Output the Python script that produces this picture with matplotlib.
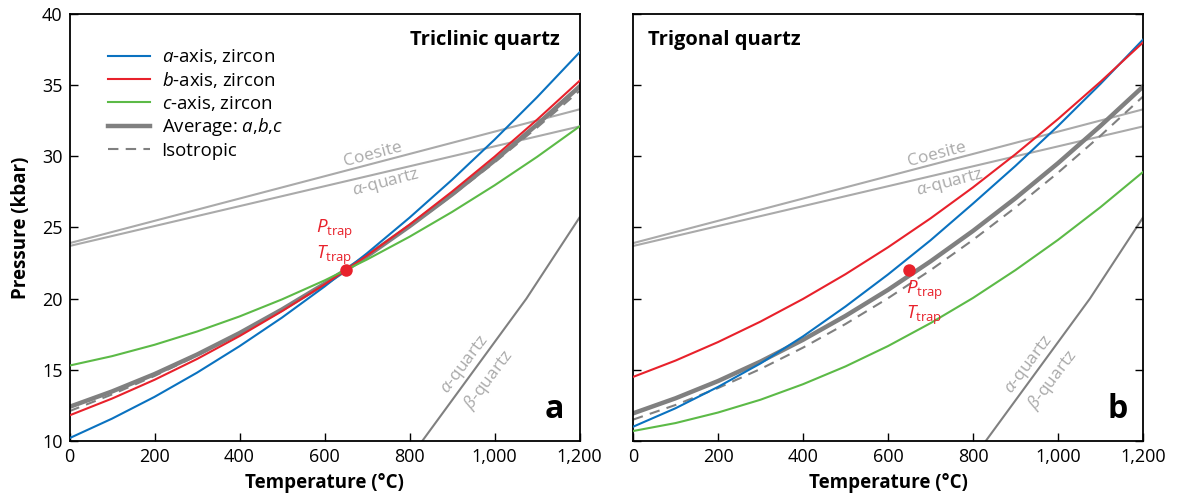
import numpy as np
import matplotlib
matplotlib.use("Agg")
import matplotlib.pyplot as plt

plt.rcParams['font.family'] = ['Open Sans', 'DejaVu Sans']
plt.rcParams['mathtext.fontset'] = 'custom'
plt.rcParams['mathtext.it'] = 'Open Sans:italic'
plt.rcParams['mathtext.rm'] = 'Open Sans'

temps = [0, 100, 200, 300, 400, 500, 600, 700, 800, 900, 1000, 1100, 1200]

# panel a: triclinic quartz
tri_a = [10.2, 11.57, 13.10, 14.80, 16.66, 18.67, 20.85, 23.19, 25.69, 28.35, 31.17, 34.15, 37.3]
tri_b = [11.8, 12.98, 14.30, 15.76, 17.37, 19.12, 21.00, 23.03, 25.20, 27.52, 29.97, 32.57, 35.3]
tri_c = [15.3, 15.96, 16.76, 17.69, 18.75, 19.95, 21.28, 22.75, 24.35, 26.09, 27.96, 29.96, 32.1]
tri_avg = [12.4, 13.48, 14.70, 16.07, 17.58, 19.24, 21.04, 22.99, 25.09, 27.32, 29.70, 32.23, 34.9]
tri_iso = [12.1, 13.27, 14.57, 16.00, 17.55, 19.24, 21.05, 22.99, 25.05, 27.25, 29.57, 32.02, 34.6]

# panel b: trigonal quartz
trig_a = [11.0, 12.3, 13.8, 15.45, 17.35, 19.45, 21.7, 24.1, 26.68, 29.33, 32.13, 35.09, 38.2]
trig_b = [14.5, 15.65, 16.95, 18.39, 19.98, 21.72, 23.61, 25.64, 27.82, 30.15, 32.62, 35.24, 38.0]
trig_c = [10.7, 11.26, 12.00, 12.90, 13.99, 15.24, 16.67, 18.28, 20.05, 22.01, 24.13, 26.43, 28.9]
trig_avg = [11.94, 13.00, 14.21, 15.58, 17.11, 18.79, 20.62, 22.62, 24.76, 27.06, 29.52, 32.14, 34.9]
trig_iso = [11.5, 12.53, 13.72, 15.06, 16.56, 18.22, 20.03, 22.00, 24.13, 26.41, 28.85, 31.45, 34.2]

# phase boundaries / reference lines
coesite_T = [0, 1200]
coesite_P = [23.9, 33.3]
aqtz_T = [0, 1200]
aqtz_P = [23.7, 32.1]
ab_T = [830, 1075, 1200]
ab_P = [10.0, 20.0, 25.7]

trap_T, trap_P = 650, 22

blue = '#0a72c0'
red = '#e8212b'
green = '#5cba47'
gray = '#808080'
lgray = '#aaaaaa'

fig = plt.figure(figsize=(11.77, 4.95), dpi=100)
ax1 = fig.add_axes([69.5/1177, 1-441/495, 510/1177, 427/495])
ax2 = fig.add_axes([633/1177, 1-441/495, 510/1177, 427/495])

panels = [
    (ax1, tri_a, tri_b, tri_c, tri_avg, tri_iso, 'a'),
    (ax2, trig_a, trig_b, trig_c, trig_avg, trig_iso, 'b'),
]

for ax, pa, pb, pc, pavg, piso, letter in panels:
    ax.plot(coesite_T, coesite_P, color=lgray, lw=1.5, zorder=1)
    ax.plot(aqtz_T, aqtz_P, color=lgray, lw=1.5, zorder=1)
    ax.plot(ab_T, ab_P, color=gray, lw=1.5, zorder=1)
    ax.plot(temps, pa, color=blue, lw=1.5, label='$a$-axis, zircon', zorder=3)
    ax.plot(temps, pb, color=red, lw=1.5, label='$b$-axis, zircon', zorder=3)
    ax.plot(temps, pc, color=green, lw=1.5, label='$c$-axis, zircon', zorder=3)
    ax.plot(temps, pavg, color=gray, lw=3.2, label='Average: $a$,$b$,$c$', zorder=2)
    ax.plot(temps, piso, color=gray, lw=1.5, ls=(0, (5, 3.5)), label='Isotropic', zorder=2)
    ax.plot(trap_T, trap_P, 'o', color=red, ms=9, mec='none', zorder=5)

    ax.set_xlim(0, 1200)
    ax.set_ylim(10, 40)
    ax.set_xticks([0, 200, 400, 600, 800, 1000, 1200])
    ax.set_xticklabels(['0', '200', '400', '600', '800', '1,000', '1,200'])
    ax.set_yticks([10, 15, 20, 25, 30, 35, 40])
    ax.tick_params(direction='in', length=6, width=1, labelsize=13, pad=5)
    for s in ax.spines.values():
        s.set_linewidth(1.3)
    ax.set_xlabel('Temperature (°C)', fontsize=13.5, fontweight='bold', labelpad=5)

    ax.text(715, 30.16, 'Coesite', color=lgray, fontsize=12.5, rotation=14.7,
            ha='center', va='center')
    ax.text(745, 28.15, '$\\alpha$-quartz', color=lgray, fontsize=12.5, rotation=14.7,
            ha='center', va='center')
    ax.text(932, 15.35, '$\\alpha$-quartz', color=lgray, fontsize=12.5, rotation=53,
            ha='center', va='center')
    ax.text(987, 14.3, '$\\beta$-quartz', color=lgray, fontsize=12.5, rotation=53,
            ha='center', va='center')
    ax.text(0.97, 0.035, letter, transform=ax.transAxes, fontsize=23,
            fontweight='bold', ha='right', va='bottom')

ax1.set_ylabel('Pressure (kbar)', fontsize=13.5, fontweight='bold', labelpad=8)
ax1.text(0.962, 0.962, 'Triclinic quartz', transform=ax1.transAxes, fontsize=14.5,
         fontweight='bold', ha='right', va='top')
ax2.text(0.03, 0.962, 'Trigonal quartz', transform=ax2.transAxes, fontsize=14.5,
         fontweight='bold', ha='left', va='top')
ax2.tick_params(axis='y', left=True, right=True, labelleft=False)

ax1.text(580, 22.25, '$P_{\\mathrm{trap}}$\n$T_{\\mathrm{trap}}$', color=red, fontsize=13.5,
         ha='left', va='bottom', linespacing=1.15)
ax2.text(642, 21.4, '$P_{\\mathrm{trap}}$\n$T_{\\mathrm{trap}}$', color=red, fontsize=13.5,
         ha='left', va='top', linespacing=1.15)

ax1.legend(loc='upper left', bbox_to_anchor=(0.06, 0.94), frameon=False, fontsize=13.4,
           handlelength=2.3, handletextpad=0.6, labelspacing=0.2, borderaxespad=0)

fig.savefig('out.png', dpi=100)
